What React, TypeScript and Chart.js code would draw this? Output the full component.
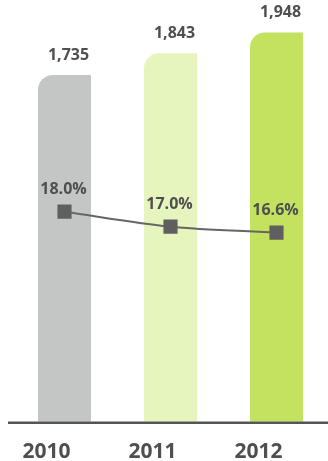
import React, { useEffect, useRef } from "react";
import { Chart, registerables } from "chart.js";

Chart.register(...registerables);

const years = ["2010", "2011", "2012"];
const totals = [1735, 1843, 1948];
const ratios = [18.0, 17.0, 16.6];
const barColors = ["#c4c6c5", "#e6f5bd", "#c3e260"];

const TEXT = "#4f4f4f";

const labelPlugin = {
  id: "valueLabels",
  afterDatasetsDraw(chart: any) {
    const ctx = chart.ctx;
    ctx.save();
    ctx.fillStyle = TEXT;
    ctx.textAlign = "center";
    ctx.textBaseline = "alphabetic";
    ctx.font = "bold 16px 'Open Sans', sans-serif";
    const barMeta = chart.getDatasetMeta(1);
    barMeta.data.forEach((el: any, i: number) => {
      ctx.fillText(totals[i].toLocaleString("en-US"), el.x + 4, el.y - 15);
    });
    const lineMeta = chart.getDatasetMeta(0);
    lineMeta.data.forEach((el: any, i: number) => {
      ctx.fillText(ratios[i].toFixed(1) + "%", el.x - 1, el.y - 18);
    });
    ctx.restore();
  },
  afterDraw(chart: any) {
    const ctx = chart.ctx;
    const area = chart.chartArea;
    ctx.save();
    ctx.strokeStyle = "#555555";
    ctx.lineWidth = 2.6;
    ctx.beginPath();
    ctx.moveTo(area.left - 3.5, area.bottom + 1);
    ctx.lineTo(chart.width, area.bottom + 1);
    ctx.stroke();
    ctx.restore();
  },
};

export default function App() {
  const ref = useRef<HTMLCanvasElement | null>(null);
  useEffect(() => {
    if (!ref.current) return;
    Chart.defaults.font.family = "'Open Sans', sans-serif";
    const chart = new Chart(ref.current, {
      type: "bar",
      data: {
        labels: years,
        datasets: [
          {
            type: "line",
            data: ratios,
            yAxisID: "y2",
            order: 0,
            borderColor: "#666666",
            borderWidth: 2,
            tension: 0.3,
            pointStyle: "rect",
            pointRadius: 10,
            pointBackgroundColor: "#5f5f5f",
            pointBorderColor: "#5f5f5f",
            pointBorderWidth: 0,
          } as any,
          {
            type: "bar",
            data: totals,
            yAxisID: "y",
            order: 1,
            backgroundColor: barColors,
            barPercentage: 0.5,
            categoryPercentage: 1,
            borderRadius: { topLeft: 15, topRight: 0, bottomLeft: 0, bottomRight: 0 },
            borderSkipped: "start",
          } as any,
        ],
      },
      options: {
        responsive: false,
        animation: false,
        layout: { autoPadding: false, padding: { left: 11.5, right: 2.5, top: 0, bottom: 0 } },
        plugins: {
          legend: { display: false },
          tooltip: { enabled: false },
        },
        scales: {
          x: {
            grid: { display: false, drawTicks: false },
            border: { display: false },
            ticks: {
              color: TEXT,
              font: { size: 21, weight: "bold" },
              labelOffset: -18,
              padding: 18,
            },
          },
          y: { display: false, min: 0, max: 2110 },
          y2: { display: false, min: 4, max: 32.1 },
        },
      },
      plugins: [labelPlugin],
    });
    return () => chart.destroy();
  }, []);
  return (
    <div
      style={{
        position: "absolute",
        left: 0,
        top: 0,
        width: 328,
        height: 461,
        overflow: "hidden",
        background: "#ffffff",
      }}
    >
      <canvas ref={ref} width={332} height={483} style={{ display: "block" }} />
    </div>
  );
}
